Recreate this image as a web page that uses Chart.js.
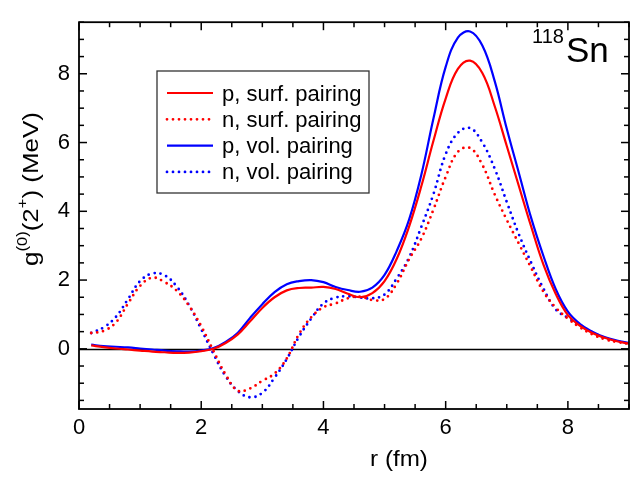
<!DOCTYPE html>
<html><head><meta charset="utf-8">
<script src="https://cdn.jsdelivr.net/npm/chart.js@4/dist/chart.umd.min.js"></script>
<style>html,body{margin:0;padding:0;background:#fff}canvas{display:block}</style>
</head><body>
<canvas id="c" width="641" height="479"></canvas>
<script>
// radial grid r (fm)
const r = [0.2,0.4,0.6,0.8,1.0,1.2,1.4,1.6,1.8,2.0,
           2.2,2.4,2.6,2.8,3.0,3.2,3.4,3.6,3.8,4.0,
           4.2,4.4,4.6,4.8,5.0,5.2,5.4,5.6,5.8,6.0,
           6.2,6.4,6.6,6.8,7.0,7.2,7.4,7.6,7.8,8.0,
           8.2,8.4,8.6,8.8,9.0];
// p, surf. pairing
const pSurf = [0.10,0.05,0.01,-0.02,-0.05,-0.08,-0.10,-0.12,-0.11,-0.07,
               0.00,0.17,0.42,0.80,1.19,1.50,1.70,1.77,1.78,1.80,
               1.74,1.60,1.50,1.62,1.97,2.62,3.55,4.72,6.05,7.28,
               8.14,8.38,8.02,7.07,5.90,4.72,3.55,2.45,1.60,0.98,
               0.67,0.46,0.32,0.22,0.15];
// n, surf. pairing
const nSurf = [0.46,0.52,0.76,1.31,1.83,2.07,1.94,1.69,1.25,0.66,
               -0.06,-0.75,-1.22,-1.15,-0.93,-0.72,-0.28,0.43,0.92,1.21,
               1.32,1.47,1.52,1.42,1.45,1.90,2.60,3.20,4.05,5.00,
               5.73,5.84,5.35,4.50,3.75,3.05,2.35,1.66,1.20,0.88,
               0.62,0.42,0.28,0.20,0.15];
// p, vol. pairing
const pVol = [0.12,0.08,0.06,0.04,0.01,-0.02,-0.05,-0.07,-0.08,-0.05,
              0.02,0.20,0.47,0.90,1.30,1.65,1.88,1.97,2.00,1.94,
              1.80,1.71,1.66,1.78,2.15,2.85,3.75,5.05,6.70,8.20,
              9.05,9.23,8.82,7.80,6.40,5.10,3.80,2.70,1.74,1.08,
              0.72,0.50,0.34,0.24,0.17];
// n, vol. pairing
const nVol = [0.46,0.62,0.92,1.44,1.97,2.19,2.14,1.81,1.27,0.57,
              -0.15,-0.80,-1.23,-1.41,-1.28,-0.84,-0.30,0.35,0.88,1.32,
              1.49,1.53,1.49,1.47,1.58,2.05,2.65,3.54,4.50,5.66,
              6.28,6.42,6.00,5.25,4.27,3.32,2.50,1.75,1.15,0.90,
              0.69,0.48,0.32,0.22,0.15];

const seriesLabels = ['p, surf. pairing','n, surf. pairing','p, vol. pairing','n, vol. pairing'];
const xTicks = [0,2,4,6,8];
const yTicks = [0,2,4,6,8];
const xTitle = 'r (fm)';
const nucleusMass = '118';
const nucleusName = 'Sn';

const FONT = '"Liberation Sans", Arial, sans-serif';
const RED = '#ff0000', BLUE = '#0000ff';

function pts(arr){ return r.map((v,i)=>({x:v, y:arr[i]})); }
function ds(label, arr, color, dotted){
  return {label, data: pts(arr), borderColor: color, backgroundColor: color,
    borderWidth: dotted ? 2.8 : 2.2, borderDash: dotted ? [0, 6] : [],
    borderCapStyle: dotted ? 'round' : 'butt', borderJoinStyle:'round',
    showLine: true, pointRadius: 0, fill: false, tension: 0.4};
}

function line(ctx,x1,y1,x2,y2){ ctx.beginPath(); ctx.moveTo(x1,y1); ctx.lineTo(x2,y2); ctx.stroke(); }

const deco = {
  id: 'deco',
  beforeDatasetsDraw(chart){
    const {ctx, chartArea:a, scales:{y}} = chart;
    ctx.save();
    ctx.strokeStyle = '#000'; ctx.lineWidth = 1.6;
    const y0 = Math.round(y.getPixelForValue(0)) + 0.5;
    line(ctx, a.left, y0, a.right, y0);
    ctx.restore();
  },
  afterDatasetsDraw(chart){
    const {ctx, chartArea:a, scales:{x,y}} = chart;
    ctx.save();
    ctx.strokeStyle = '#000'; ctx.lineWidth = 1.8;
    ctx.strokeRect(a.left, a.top, a.right - a.left, a.bottom - a.top);
    ctx.lineWidth = 1.5;
    for (let v = x.min; v <= x.max + 1e-9; v += 0.5){
      const px = x.getPixelForValue(v);
      const major = Math.abs(v/2 - Math.round(v/2)) < 1e-9;
      const L = major ? 8 : 5;
      line(ctx, px, a.bottom, px, a.bottom - L);
      line(ctx, px, a.top, px, a.top + L);
    }
    for (let v = -1.5; v <= y.max + 1e-9; v += 0.5){
      const py = y.getPixelForValue(v);
      const major = Math.abs(v/2 - Math.round(v/2)) < 1e-9;
      const L = major ? 8 : 5;
      line(ctx, a.left, py, a.left + L, py);
      line(ctx, a.right, py, a.right - L, py);
    }
    ctx.restore();
  },
  afterDraw(chart){
    const {ctx} = chart;
    ctx.save();
    ctx.fillStyle = '#000';
    // legend
    const bx = 157, by = 71, bw = 212, bh = 122;
    ctx.fillStyle = '#fff'; ctx.fillRect(bx, by, bw, bh);
    ctx.strokeStyle = '#333'; ctx.lineWidth = 1.3; ctx.strokeRect(bx, by, bw, bh);
    chart.data.datasets.forEach((d, i) => {
      const cy = 93 + i * 26.3;
      ctx.strokeStyle = d.borderColor; ctx.lineWidth = d.borderWidth;
      ctx.setLineDash(d.borderDash); ctx.lineCap = d.borderCapStyle;
      line(ctx, 167, cy, 213, cy);
      ctx.setLineDash([]); ctx.lineCap = 'butt';
      ctx.fillStyle = '#000'; ctx.font = '22px ' + FONT; ctx.textBaseline = 'alphabetic'; ctx.textAlign = 'left';
      ctx.fillText(d.label, 222, cy + 7.5);
    });
    // x title
    ctx.save();
    ctx.font = '22px ' + FONT; ctx.textAlign = 'center'; ctx.textBaseline = 'alphabetic';
    ctx.translate(399, 466); ctx.scale(1.1, 1);
    ctx.fillText(xTitle, 0, 0);
    ctx.restore();
    // y title with superscripts
    ctx.save();
    const big = '22px ' + FONT, small = '14px ' + FONT;
    const parts = [['g', big, 0], ['(0)', small, -11], ['(2', big, 0], ['+', small, -11], [') (MeV)', big, 0]];
    let total = 0;
    parts.forEach(p => { ctx.font = p[1]; total += ctx.measureText(p[0]).width; });
    ctx.translate(38, 189); ctx.rotate(-Math.PI/2); ctx.scale(1.18, 1);
    ctx.textAlign = 'left'; ctx.textBaseline = 'alphabetic';
    let cx = -total/2;
    parts.forEach(p => { ctx.font = p[1]; ctx.fillText(p[0], cx, p[2]); cx += ctx.measureText(p[0]).width; });
    ctx.restore();
    // nucleus label
    ctx.textAlign = 'left'; ctx.textBaseline = 'alphabetic';
    ctx.font = '20px ' + FONT; ctx.fillText(nucleusMass, 532, 43);
    ctx.font = '35px ' + FONT; ctx.fillText(nucleusName, 566, 62);
    ctx.restore();
  }
};

new Chart(document.getElementById('c'), {
  type: 'scatter',
  data: { datasets: [
    ds(seriesLabels[0], pSurf, RED, false),
    ds(seriesLabels[1], nSurf, RED, true),
    ds(seriesLabels[2], pVol, BLUE, false),
    ds(seriesLabels[3], nVol, BLUE, true)
  ]},
  options: {
    responsive: false, animation: false,
    layout: { padding: { top: 3, right: 12, left: 0, bottom: 0 } },
    plugins: { legend: { display: false }, tooltip: { enabled: false } },
    scales: {
      x: { type: 'linear', min: 0, max: 9,
        afterBuildTicks: s => { s.ticks = xTicks.map(v => ({value: v})); },
        afterFit: s => { s.height = 70; },
        ticks: { font: { family: FONT, size: 22 }, color: '#000', padding: 6, autoSkip: false, maxRotation: 0 },
        grid: { display: false, drawTicks: false }, border: { display: false } },
      y: { type: 'linear', min: -1.75, max: 9.5,
        afterBuildTicks: s => { s.ticks = yTicks.map(v => ({value: v})); },
        afterFit: s => { s.width = 79; },
        ticks: { font: { family: FONT, size: 22 }, color: '#000', padding: 9, autoSkip: false },
        grid: { display: false, drawTicks: false }, border: { display: false } }
    }
  },
  plugins: [deco]
});
</script>
</body></html>
